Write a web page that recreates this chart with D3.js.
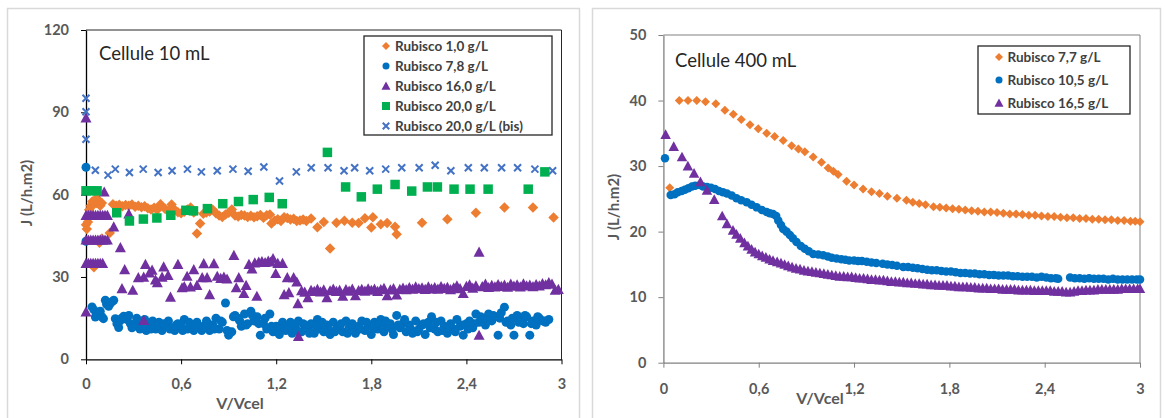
<!DOCTYPE html>
<html><head><meta charset="utf-8">
<script src="https://cdn.jsdelivr.net/npm/d3@7"></script>
<style>body{margin:0;background:#fff} svg{display:block} text{font-family:Lato,"Open Sans",sans-serif}</style>
</head><body><svg id="c" width="1165" height="418"></svg>
<script>
// ---------- ticks & labels ----------
const xTicks = [0, 0.6, 1.2, 1.8, 2.4, 3];
const xTickLabels = ["0", "0,6", "1,2", "1,8", "2,4", "3"];
const leftYTicks = [0, 30, 60, 90, 120];
const rightYTicks = [0, 10, 20, 30, 40, 50];
const leftTitle = "Cellule 10 mL";
const rightTitle = "Cellule 400 mL";
const xTitle = "V/Vcel";
const yTitle = "J (L/h.m2)";
const leftNames = ["Rubisco 1,0 g/L", "Rubisco 7,8 g/L", "Rubisco 16,0 g/L", "Rubisco 20,0 g/L", "Rubisco 20,0 g/L (bis)"];
const rightNames = ["Rubisco 7,7 g/L", "Rubisco 10,5 g/L", "Rubisco 16,5 g/L"];

// ---------- left panel (10 mL) data : [V/Vcel, J] ----------
const l10 = [[0,49],[0.005,47.5],[0.012,50],[0.02,54.5],[0.03,56],[0.04,57.5],[0.05,56.5],[0.055,58],[0.065,57],[0.07,58.5],[0.08,57.5],[0.09,56],[0.1,57],[0.05,33.5],[0.085,42.5],[0.1,44],[0.15,46],
[0.17,56.5],[0.19,56],[0.21,56.3],[0.23,55.8],[0.25,56.2],[0.27,56],[0.29,56.4],[0.31,55.6],[0.33,56],[0.35,55.4],[0.37,55.8],[0.39,55],[0.41,54.6],[0.43,55.2],[0.45,54.5],[0.47,56.5],[0.5,54.8],[0.52,54],[0.54,56.4],[0.56,54.5],[0.58,53.6],[0.6,53.2],[0.62,53.8],[0.64,54.6],[0.66,55.3],[0.68,53.5],[0.7,45.8],[0.72,49.5],[0.74,53],[0.76,53.5],[0.78,53.9],[0.8,54.5],[0.82,53.2],[0.84,52.4],[0.86,51.9],[0.88,52.8],[0.9,53.4],[0.92,54.6],[0.94,52.4],[0.96,52],[0.98,52.6],[1,52.4],[1.02,51.9],[1.04,52.3],[1.06,51.8],[1.08,52.1],[1.1,52.6],[1.12,51.6],[1.14,52.5],[1.16,52.8],[1.17,49.5],[1.19,50.6],[1.21,51],[1.23,50.4],[1.25,51.8],[1.27,51.5],[1.29,50.9],[1.31,51.2],[1.33,50.4],[1.35,50.6],[1.37,50.9],[1.39,50.4],[1.42,51.3],[1.46,48.1],[1.5,50],[1.54,40.4],[1.58,49.8],[1.63,50.5],[1.68,49.8],[1.72,49.7],[1.76,51.4],[1.8,48],[1.81,51.8],[1.86,49.2],[1.9,49.7],[1.95,48.3],[1.96,45.6],[2.12,49.8],[2.28,51],[2.46,53.4],[2.64,55.3],[2.82,55.3],[2.95,51.7]];

const l78 = [[0,70],[0,43],[0.038,19.1],[0.05,18],[0.059,15.4],[0.075,17],[0.09,17.5],[0.1,15.5],[0.11,14.8],[0.122,21.5],[0.13,20],[0.143,19.3],[0.155,20.5],[0.165,21],[0.175,21.5],[0.185,14.8],[0.195,13],[0.206,11.6],[0.215,14],[0.225,15],[0.238,15.7],[0.258,14.5],[0.27,16],
[0.28,13],[0.3,12],[0.32,15],[0.34,11],[0.36,13],[0.38,10.5],[0.4,12.5],[0.42,14],[0.44,11],[0.46,13.5],[0.48,10.5],[0.5,12],[0.52,14],[0.54,11.5],[0.56,10.5],[0.58,13],[0.6,12],[0.62,14.5],[0.64,11],[0.66,12.5],[0.68,10.5],[0.7,13.5],[0.72,11.5],[0.74,12],[0.76,14],[0.78,10.5],[0.8,12.5],[0.82,15],[0.84,11],[0.86,13.5],[0.88,20.5],[0.9,8.8],[0.92,10],[0.94,16],[0.96,15],[0.98,12],[1,16.5],[1.02,13],[1.04,17.5],[1.06,14],[1.08,15.5],[1.1,8.8],[1.12,13],[1.14,11],[1.16,16.5],[1.18,10],[1.2,12],[1.22,9],[1.24,13.5],[1.26,10.5],[1.28,11.5],[1.3,9.5],[1.32,12],[1.34,14],[1.36,10],[1.38,12.5],[1.4,11],[1.42,13],[1.44,9.5],[1.46,14.5],[1.48,11],[1.5,10],[1.52,12.5],[1.54,9],[1.56,13.5],[1.58,11],[1.6,12],[1.62,10],[1.64,14],[1.66,11.5],[1.68,13],[1.7,9.5],[1.72,12],[1.74,14],[1.76,10.5],[1.78,12.5],[1.8,9],[1.82,13.5],[1.84,11],[1.86,14.5],[1.88,10],[1.9,12],[1.92,13],[1.94,9],[1.96,16],[1.98,11.5],[2,13],[2.02,10],[2.04,12.5],[2.06,9.5],[2.08,14],[2.1,11],[2.12,12.5],[2.14,9],[2.16,13.5],[2.18,15.5],[2.2,11],[2.22,10],[2.24,14],[2.26,12],[2.28,9.5],[2.3,13],[2.32,11],[2.34,14.5],[2.36,12],[2.38,8.8],[2.4,13],[2.42,14],[2.44,11.5],[2.46,16.5],[2.48,13.5],[2.5,15],[2.52,12.5],[2.54,16.5],[2.56,14],[2.58,15.5],[2.6,8.8],[2.62,17],[2.64,19],[2.66,14],[2.68,12.5],[2.7,8.8],[2.72,16],[2.74,14.5],[2.76,13],[2.78,15.5],[2.8,8.8],[2.82,14],[2.84,12.5],[2.86,15],[2.88,14],[2.9,13.5],[2.92,14.5],
[0.29,11.5],[0.33,12.5],[0.37,14.5],[0.41,11],[0.45,12],[0.49,13],[0.53,11],[0.57,12.5],[0.61,10.5],[0.65,13.5],[0.69,12],[0.73,10.5],[0.77,13],[0.81,11],[0.85,14],[0.89,10.5],[0.93,15.5],[0.97,14],[1.01,12.5],[1.05,16],[1.09,13],[1.13,15],[1.17,12],[1.21,10.5],[1.25,12],[1.29,13.5],[1.33,10.5],[1.37,13],[1.41,9.5],[1.45,12],[1.49,13.5],[1.53,11],[1.57,10],[1.61,13],[1.65,9.5],[1.69,12],[1.73,11],[1.77,13.5],[1.81,11.5],[1.85,12.5],[1.89,14],[1.93,11],[1.97,12.5],[2.01,14.5],[2.05,11],[2.09,10],[2.13,13],[2.17,11.5],[2.21,13.5],[2.25,10.5],[2.29,12],[2.33,10],[2.37,12.5],[2.41,11],[2.45,13],[2.49,15.5],[2.53,14],[2.57,16],[2.61,15],[2.65,13.5],[2.69,15],[2.73,13.5],[2.77,16],[2.81,13],[2.85,15.5],[2.89,14]];

const l160 = [[0,17.3],[0,88],[0,35],[0.015,35],[0.03,35],[0.045,35],[0.06,35],[0.075,35],[0.09,35],[0.105,35],[0,43.5],[0.015,43.5],[0.03,43.5],[0.045,43.5],[0.06,43.5],[0.075,43.5],[0.09,43.5],[0.105,43.5],[0.12,43.5],[0.135,43.5],[0,52.5],[0.015,52.5],[0.03,52.5],[0.045,52.5],[0.06,52.5],[0.075,52.5],[0.09,52.5],[0.105,52.5],[0.12,52.5],[0.135,52.5],[0.115,61],
[0.175,48.3],[0.217,40.7],[0.244,32.7],[0.227,25.8],[0.27,53],[0.295,25.2],[0.33,29.8],[0.364,30],[0.375,34.6],[0.364,14.2],[0.4,31.5],[0.417,32.5],[0.438,29],[0.45,28],[0.48,30],[0.49,33.7],[0.518,30.6],[0.533,22.7],[0.58,34.6],[0.606,26.1],[0.62,26.5],[0.638,30.3],[0.659,26.4],[0.68,32.7],[0.7,27],[0.733,29.8],[0.743,34.9],[0.764,29.8],[0.78,23.6],[0.807,34.9],[0.828,30.3],[0.85,29.5],[0.87,30],[0.89,29.3],[0.933,37.9],[0.948,26.1],[0.964,29.8],[0.996,24],[1.01,27],[1.028,34.6],[1.047,33],[1.065,35.2],[1.078,23],[1.09,35.5],[1.11,35.6],[1.13,35.3],[1.15,35.8],[1.165,35.5],[1.18,36.7],[1.197,31.3],[1.21,35],[1.24,35],[1.25,23.6],[1.27,29.8],[1.28,24.3],[1.31,29.8],[1.33,28.2],[1.337,20.3],[1.34,8.4],
[1.36,25],[1.38,24.5],[1.4,22.5],[1.42,25.2],[1.44,24.8],[1.46,25.5],[1.48,24.6],[1.5,25.3],[1.52,22.5],[1.54,25],[1.56,25.6],[1.58,24.8],[1.6,25.2],[1.62,23],[1.64,25.4],[1.66,24.9],[1.68,25.6],[1.7,23.2],[1.72,25.1],[1.74,25.5],[1.76,24.9],[1.78,25.7],[1.8,25.2],[1.82,25.6],[1.84,24.8],[1.86,25.4],[1.88,25.9],[1.9,23.2],[1.92,25.3],[1.94,25.8],[1.96,23.5],[1.98,25.5],[2,26],[2.02,25.4],[2.04,26.2],[2.06,25.6],[2.08,26.4],[2.1,25.8],[2.12,26.1],[2.14,25.5],[2.16,26.4],[2.18,25.7],[2.2,26.2],[2.22,25.6],[2.24,26.5],[2.26,25.9],[2.28,26.3],[2.3,25.4],[2.32,26.1],[2.34,26.8],[2.36,25.8],[2.38,24],[2.4,26.6],[2.42,27.2],[2.44,26],[2.46,26.8],[2.48,39.1],[2.48,8.8],[2.5,26.5],[2.52,27.4],[2.54,26.2],[2.56,27],[2.58,26.4],[2.6,27.3],[2.62,26.6],[2.64,27.1],[2.66,26.3],[2.68,27.4],[2.7,26.7],[2.72,27.2],[2.74,26.4],[2.76,27.5],[2.78,26.8],[2.8,27.1],[2.82,26.5],[2.84,27.3],[2.86,26.8],[2.88,27.6],[2.9,27.2],[2.92,28],[2.94,27.4],[2.96,25.2],[2.98,25.5]];

const l200 = [[0,61.4],[0.035,61.4],[0.07,61.4],[0.194,53.4],[0.274,50.4],[0.362,51.1],[0.447,51.5],[0.535,52.5],[0.63,54.3],[0.678,54.1],[0.766,54.9],[0.863,56.7],[0.962,57.5],[1.055,58.2],[1.156,59],[1.238,56.7],[1.523,75.4],[1.638,62.8],[1.737,59.2],[1.838,62],[1.95,63.7],[2.055,61.3],[2.154,62.8],[2.217,62.8],[2.322,62],[2.423,62],[2.537,62],[2.79,62],[2.895,68.3]];

const l200bis = [[0,95.1],[0,90.2],[0,80.2],[0.059,68.9],[0.139,67.1],[0.185,69.3],[0.274,68.1],[0.361,69.3],[0.455,68.1],[0.543,68.7],[0.64,69.3],[0.728,68.3],[0.828,68.7],[0.927,69.3],[1.023,68.5],[1.122,70.1],[1.221,65],[1.327,68.3],[1.421,69.8],[1.527,69.8],[1.628,68.7],[1.695,69.8],[1.79,68.7],[1.891,69.3],[1.992,69.8],[2.102,69.8],[2.203,70.7],[2.302,68.7],[2.412,69.8],[2.513,69.8],[2.622,69.8],[2.723,69.8],[2.832,69.3],[2.944,68.7]];

// ---------- right panel (400 mL) data ----------
const r77 = [[0.04,26.7],[0.1,40],[0.155,40],[0.21,40],[0.265,39.8],[0.33,39.5],[0.387,38.5],[0.44,37.9],[0.49,37.1],[0.545,36.3],[0.597,35.7],[0.65,35],[0.7,34.5],[0.754,33.9],[0.807,33.1],[0.85,32.6],[0.89,32.2],[0.943,31.4],[0.995,30.6],[1.037,29.7],[1.07,29.2],[1.1,28.7],[1.153,27.7],[1.2,27.1],[1.257,26.5],[1.31,26.1],[1.36,25.8],[1.41,25.4],[1.47,25.1],[1.53,24.8],[1.57,24.5],[1.61,24.3],[1.65,24.1],[1.7,23.8],[1.74,23.7],[1.78,23.6],[1.82,23.5],[1.86,23.4],[1.9,23.3],[1.94,23.2],[1.98,23.1],[2.02,23],[2.06,23],[2.1,22.9],[2.14,22.8],[2.18,22.7],[2.22,22.7],[2.26,22.6],[2.3,22.5],[2.34,22.5],[2.38,22.4],[2.42,22.3],[2.46,22.3],[2.5,22.2],[2.54,22.1],[2.58,22.1],[2.62,22],[2.66,22],[2.7,21.9],[2.74,21.9],[2.78,21.8],[2.82,21.8],[2.86,21.7],[2.9,21.7],[2.94,21.6],[2.97,21.6],[3,21.5]];

const r105 = [[0.01,31.2],[0.046,25.6],[0.07,25.7],[0.09,26],[0.115,26.2],[0.135,26.4],[0.157,26.6],[0.18,26.9],[0.2,27],[0.23,27.1],[0.25,26.9],[0.275,26.8],[0.3,26.7],[0.325,26.5],[0.35,26.2],[0.375,26],[0.4,25.8],[0.43,25.5],[0.46,25.1],[0.49,24.8],[0.524,24.5],[0.555,24.1],[0.587,23.7],[0.62,23.3],[0.65,23],[0.67,22.8],[0.69,22.7],[0.71,22.4],[0.723,21.7],[0.74,21],[0.754,20.4],[0.775,20],[0.796,19.5],[0.815,19],[0.838,18.4],[0.865,17.8],[0.89,17.4],[0.915,17],[0.943,16.6],[0.975,16.5],[1.006,16.4],[1.035,16.2],[1.06,16],[1.09,15.9],[1.12,15.8],[1.145,15.7],[1.17,15.6],[1.2,15.6],[1.225,15.5],[1.25,15.5],[1.28,15.4],[1.31,15.3],[1.34,15.2],[1.38,15.1],[1.41,15],[1.44,14.9],[1.47,14.8],[1.51,14.6],[1.54,14.6],[1.57,14.5],[1.6,14.4],[1.63,14.3],[1.66,14.2],[1.69,14.1],[1.72,14.1],[1.75,14],[1.78,13.9],[1.81,13.9],[1.84,13.8],[1.87,13.7],[1.9,13.7],[1.93,13.6],[1.96,13.6],[1.99,13.5],[2.02,13.5],[2.05,13.4],[2.08,13.4],[2.11,13.3],[2.14,13.3],[2.17,13.3],[2.2,13.2],[2.23,13.2],[2.26,13.1],[2.29,13.1],[2.32,13.1],[2.35,13],[2.38,13.1],[2.41,13],[2.44,12.9],[2.47,12.9],[2.485,12.8],[2.56,13],[2.59,12.9],[2.62,12.9],[2.65,12.8],[2.68,12.9],[2.71,12.8],[2.74,12.8],[2.77,12.8],[2.8,12.7],[2.83,12.8],[2.86,12.7],[2.89,12.7],[2.92,12.7],[2.95,12.7],[2.98,12.7],[3,12.7]];

const r165 = [[0.014,34.8],[0.065,33],[0.117,31.4],[0.154,30],[0.193,28.9],[0.233,27.6],[0.274,26.3],[0.32,24.9],[0.37,22.4],[0.4,21.2],[0.438,20.2],[0.46,19.6],[0.484,19],[0.51,18.3],[0.532,17.8],[0.555,17.3],[0.577,16.9],[0.6,16.6],[0.622,16.3],[0.645,16.1],[0.668,15.8],[0.69,15.6],[0.716,15.4],[0.74,15.2],[0.763,15],[0.786,14.8],[0.81,14.6],[0.835,14.4],[0.86,14.3],[0.885,14.1],[0.91,14],[0.935,13.9],[0.96,13.8],[0.985,13.7],[1.01,13.6],[1.035,13.5],[1.06,13.4],[1.085,13.3],[1.11,13.2],[1.135,13.2],[1.16,13.1],[1.185,13.1],[1.21,13],[1.235,12.9],[1.26,12.9],[1.285,12.8],[1.31,12.7],[1.335,12.7],[1.36,12.6],[1.385,12.6],[1.41,12.5],[1.435,12.4],[1.46,12.4],[1.485,12.3],[1.51,12.3],[1.535,12.2],[1.56,12.2],[1.585,12.1],[1.61,12.1],[1.635,12],[1.66,12],[1.685,11.9],[1.71,11.9],[1.735,11.8],[1.76,11.8],[1.785,11.8],[1.81,11.7],[1.835,11.7],[1.86,11.6],[1.885,11.6],[1.91,11.6],[1.935,11.5],[1.96,11.5],[1.985,11.4],[2.01,11.4],[2.035,11.4],[2.06,11.3],[2.085,11.3],[2.11,11.3],[2.135,11.2],[2.16,11.2],[2.185,11.2],[2.21,11.2],[2.235,11.1],[2.26,11.1],[2.285,11.1],[2.31,11.1],[2.335,11],[2.36,11],[2.385,11],[2.41,11],[2.435,11],[2.46,10.9],[2.485,10.9],[2.51,10.9],[2.535,10.8],[2.56,10.8],[2.585,10.9],[2.61,11],[2.635,11],[2.66,11.1],[2.685,11.1],[2.71,11.1],[2.735,11.2],[2.76,11.2],[2.785,11.2],[2.81,11.2],[2.835,11.2],[2.86,11.2],[2.885,11.3],[2.91,11.3],[2.935,11.3],[2.96,11.3],[2.985,11.3],[3,11.3]];

// ---------- drawing ----------
const svg = d3.select("#c");
const C = {orange:"#ED7D31", blue:"#0070C0", purple:"#7030A0", green:"#00B050", xblue:"#4472C4"};

function marker(shape, s){
  const h = s/2;
  if(shape==="diamond") return `M0,${-h}L${h},0L0,${h}L${-h},0Z`;
  if(shape==="square") return `M${-h},${-h}H${h}V${h}H${-h}Z`;
  if(shape==="triangle") return `M0,${-h}L${h},${h*0.85}L${-h},${h*0.85}Z`;
  if(shape==="x") return `M${-h},${-h}L${h},${h}M${-h},${h}L${h},${-h}`;
  return d3.arc()({innerRadius:0,outerRadius:h,startAngle:0,endAngle:2*Math.PI});
}

function drawPanel(o){
  const g = svg.append("g");
  g.append("rect").attr("x",o.fx0+0.5).attr("y",8.5).attr("width",o.fx1-o.fx0).attr("height",420)
   .attr("fill","none").attr("stroke","#d9d9d9").attr("stroke-width",1.5);
  const x = d3.scaleLinear().domain([0,3]).range([o.x0,o.x1]);
  const y = d3.scaleLinear().domain([0,o.ymax]).range([o.y0,o.y1]);
  g.append("path").attr("d",`M${o.x0},${o.y1}H${o.x1}V${o.y0}`).attr("fill","none")
   .attr("stroke",o.frameColor).attr("stroke-width",1);
  const ax = g.append("g").attr("transform",`translate(0,${o.y0})`)
    .call(d3.axisBottom(x).tickValues(xTicks).tickFormat((d,i)=>xTickLabels[i]).tickSize(5).tickSizeOuter(0).tickPadding(o.xPad));
  const ay = g.append("g").attr("transform",`translate(${o.x0},0)`)
    .call(d3.axisLeft(y).tickValues(o.yTicks).tickSize(5).tickSizeOuter(0).tickPadding(12));
  [ax,ay].forEach(a=>{
    a.select(".domain").attr("stroke",o.axisColor).attr("stroke-width",1.3);
    a.selectAll(".tick line").attr("stroke",o.axisColor);
    a.selectAll("text").attr("fill","#595959").attr("font-weight","bold").attr("font-size",14.5).style("font-family","Lato");
  });
  o.series.forEach(s=>{
    const sel = g.append("g").selectAll("path").data(s.data).join("path")
      .attr("transform",d=>`translate(${x(d[0])},${y(d[1])})`)
      .attr("d",marker(s.shape,s.size));
    if(s.shape==="x") sel.attr("fill","none").attr("stroke",s.color).attr("stroke-width",2);
    else sel.attr("fill",s.color);
  });
  g.append("text").attr("x",o.tx).attr("y",o.ty).text(o.title).attr("font-size",18.5).attr("fill","#262626");
  g.append("text").attr("x",o.xtx).attr("y",o.xty).attr("text-anchor","middle").text(xTitle)
   .attr("font-size",16).attr("font-weight","bold").attr("fill","#595959");
  g.append("text").attr("transform",`translate(${o.ytx},${o.yty}) rotate(-90)`).attr("text-anchor","middle").text(yTitle)
   .attr("font-size",15).attr("font-weight","bold").attr("fill","#595959");
  const L = o.legend;
  g.append("rect").attr("x",L.x0).attr("y",L.y0).attr("width",L.x1-L.x0).attr("height",L.y1-L.y0)
   .attr("fill","#fff").attr("stroke","#262626").attr("stroke-width",1.3);
  o.series.filter(s=>s.name).forEach((s,i)=>{
    const cy = L.ry[i];
    const m = g.append("path").attr("transform",`translate(${L.mx},${cy})`).attr("d",marker(s.shape,s.lsize));
    if(s.shape==="x") m.attr("fill","none").attr("stroke",s.color).attr("stroke-width",2);
    else m.attr("fill",s.color);
    g.append("text").attr("x",L.tx).attr("y",cy).attr("dy","0.36em").text(s.name)
     .attr("font-size",L.fs).attr("font-weight","bold").attr("fill","#404040");
  });
}

drawPanel({
  fx0:7, fx1:579, x0:86, x1:561.5, y0:359.3, y1:30, ymax:120, yTicks:leftYTicks, xPad:14,
  axisColor:"#000", frameColor:"#262626",
  title:leftTitle, tx:99, ty:60, xtx:240, xty:409, ytx:32, yty:193,
  series:[
    {data:l10, shape:"diamond", size:10.5, lsize:8, color:C.orange, name:leftNames[0]},
    {data:l78, shape:"circle", size:9, lsize:7, color:C.blue, name:leftNames[1]},
    {data:l160, shape:"triangle", size:11, lsize:9, color:C.purple, name:leftNames[2]},
    {data:l200, shape:"square", size:9.5, lsize:8, color:C.green, name:leftNames[3]},
    {data:l200bis, shape:"x", size:7, lsize:6.5, color:C.xblue, name:leftNames[4]}
  ],
  legend:{x0:364, y0:36, x1:552, y1:135, mx:386, tx:395, ry:[46,66,86,106,126], fs:13.5}
});

drawPanel({
  fx0:592, fx1:1160, x0:663.4, x1:1140, y0:362.7, y1:35, ymax:50, yTicks:rightYTicks, xPad:16,
  axisColor:"#808080", frameColor:"#808080",
  title:rightTitle, tx:675, ty:67, xtx:820, xty:404, ytx:619, yty:207,
  series:[
    {data:r77, shape:"diamond", size:9, lsize:8, color:C.orange, name:rightNames[0]},
    {data:r105, shape:"circle", size:8.5, lsize:7, color:C.blue, name:rightNames[1]},
    {data:r165, shape:"triangle", size:10.5, lsize:9, color:C.purple, name:rightNames[2]}
  ],
  legend:{x0:978, y0:46, x1:1130, y1:114, mx:999, tx:1007.5, ry:[57,80,103], fs:13.5}
});
</script></body></html>
